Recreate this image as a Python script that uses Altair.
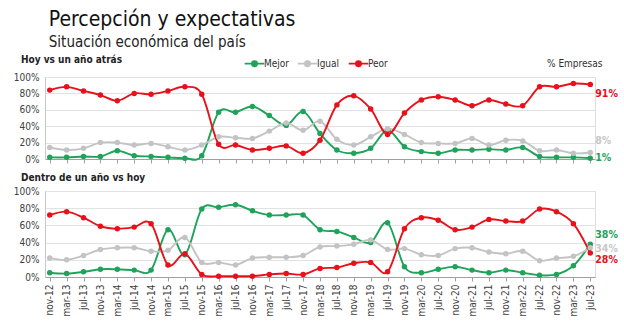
import altair as alt
import pandas as pd

cats = ["nov-12","mar-13","jul-13","nov-13","mar-14","jul-14","nov-14","mar-15","jul-15","nov-15",
        "mar-16","jul-16","nov-16","mar-17","jul-17","nov-17","mar-18","jul-18","nov-18","mar-19",
        "jul-19","nov-19","mar-20","jul-20","nov-20","mar-21","jul-21","nov-21","mar-22","jul-22",
        "nov-22","mar-23","jul-23"]

series = ["Mejor", "Igual", "Peor"]

top_mejor = [2,2,3,3,10,4,3,2,1,4,57,57,64,53,41,58,31,11,7,13,35,15,9,7,11,11,12,11,14,3,2,2,1]
top_igual = [14,11,13,20,20,17,19,15,11,17,27,26,25,34,44,35,46,24,17,27,37,30,20,19,19,25,17,23,22,10,11,7,8]
top_peor = [84,88,83,78,71,80,79,83,88,79,18,17,11,13,16,7,23,66,77,61,30,56,72,76,72,65,72,67,65,88,88,92,91]

bot_mejor = [5,4,6,9,9,8,8,55,26,79,81,84,77,72,72,72,55,53,46,40,63,12,5,9,12,8,5,8,5,2,3,13,38]
bot_igual = [22,20,25,32,34,34,30,31,46,17,17,14,22,23,23,25,35,36,38,43,32,33,26,25,33,34,29,27,30,19,22,24,34]
bot_peor = [72,76,69,59,56,58,62,14,27,3,1,1,1,3,4,3,10,11,16,17,6,56,69,66,55,58,67,65,65,79,76,62,28]

GREEN = "#1fa25a"
GRAY = "#c3c3c3"
RED = "#e8101a"
FONT = "Liberation Sans Narrow, DejaVu Sans Condensed, Roboto, sans-serif"


def make_df(m, i, p):
    rows = []
    for name, vals in zip(series, [m, i, p]):
        for c, v in zip(cats, vals):
            rows.append({"cat": c, "serie": name, "value": v})
    return pd.DataFrame(rows)


df_top = make_df(top_mejor, top_igual, top_peor)
df_bot = make_df(bot_mejor, bot_igual, bot_peor)

color_scale = alt.Scale(domain=series, range=[GREEN, GRAY, RED])
W = 550


def note(text, x, y, size=10, weight="normal", color="#222222"):
    return alt.Chart(pd.DataFrame({"t": [text]})).mark_text(
        align="left", baseline="alphabetic", fontSize=size, fontWeight=weight,
        font=FONT, color=color).encode(x=alt.value(x), y=alt.value(y), text="t:N")


def panel(df, title, title_y, show_labels, height, label_dys, with_legend):
    x = alt.X("cat:O", sort=cats, title=None,
              scale=alt.Scale(type="point", padding=0.28),
              axis=alt.Axis(labels=show_labels, labelAngle=270, labelFontSize=10,
                            labelColor="#404040", labelFont=FONT, ticks=True, tickSize=4,
                            tickColor="#a0a0a0", domainColor="#a0a0a0", grid=False,
                            labelPadding=3))
    y = alt.Y("value:Q", title=None, scale=alt.Scale(domain=[0, 100], nice=False),
              axis=alt.Axis(values=[0, 20, 40, 60, 80, 100], labelExpr="datum.value + '%'",
                            labelFontSize=10, labelColor="#404040", labelFont=FONT,
                            gridColor="#e2e2e2", domainColor="#c8c8c8", tickSize=0,
                            labelPadding=6))
    if with_legend:
        legend = alt.Legend(title=None, orient="none", direction="horizontal",
                            legendX=202, legendY=-21, labelFontSize=10, labelFont=FONT,
                            labelColor="#303030", columnPadding=5, symbolSize=150,
                            symbolStrokeWidth=1.8, labelOffset=2,
                            symbolType="M-1.6,0H1.6M-0.42,0a0.42,0.42 0 1,0 0.84,0a0.42,0.42 0 1,0 -0.84,0")
    else:
        legend = None
    base = alt.Chart(df)
    lines = base.mark_line(interpolate="cardinal", strokeWidth=1.9,
                           point=alt.OverlayMarkDef(filled=True, size=30)).encode(
        x=x, y=y, color=alt.Color("serie:N", scale=color_scale, legend=legend))
    layers = [lines]
    for name, col in zip(series, [GREEN, "#c8c8c8", RED]):
        t = base.transform_filter(
            (alt.datum.cat == cats[-1]) & (alt.datum.serie == name)
        ).transform_calculate(label="datum.value + '%'").mark_text(
            align="left", dx=5, dy=label_dys[name], fontSize=10.5, fontWeight="bold",
            font=FONT, color=col).encode(x=x, y=y, text="label:N")
        layers.append(t)
    layers.append(note(title, -24, title_y, weight="bold"))
    if with_legend:
        layers.append(note("% Empresas", 502, -10, color="#303030"))
    return alt.layer(*layers).properties(width=W, height=height)


top = panel(df_top, "Hoy vs un año atrás", -14, False, 82,
            {"Mejor": 0, "Igual": -11, "Peor": 10}, True)
bot = panel(df_bot, "Dentro de un año vs hoy", -10, True, 86,
            {"Mejor": -9, "Igual": 1, "Peor": 7}, False)

chart = alt.vconcat(top, bot, spacing=7).properties(
    title=alt.TitleParams("Percepción y expectativas",
                          subtitle="Situación económica del país",
                          anchor="start", fontSize=21, subtitleFontSize=15,
                          font=FONT, subtitleFont=FONT, color="#111111",
                          subtitleColor="#222222", fontWeight="normal", dx=36,
                          offset=5, subtitlePadding=5),
    padding={"left": 12, "top": 8, "right": 4, "bottom": 2}
).configure_view(stroke=None).configure(background="white")

chart.save("out.html", embed_options={"renderer": "svg", "actions": False})
